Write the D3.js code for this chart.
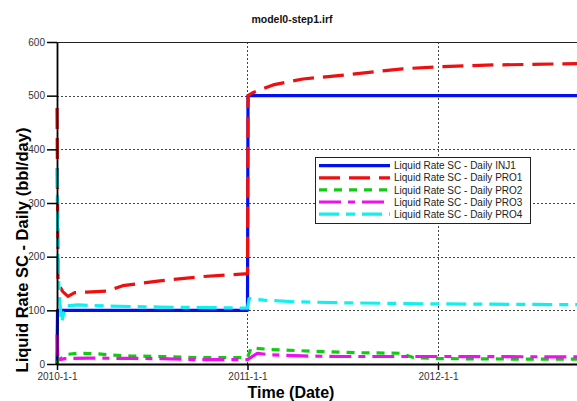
<!DOCTYPE html>
<html>
<head>
<meta charset="utf-8">
<script src="https://cdn.jsdelivr.net/npm/d3@7"></script>
<style>
  html, body { margin: 0; padding: 0; background: #fff; overflow: hidden; }
  svg { display: block; }
</style>
</head>
<body>
<svg id="chart" width="577" height="401"></svg>
<script>
// Liquid rate per well, [date, bbl/day]
const inj1 = [
  ["2010-01-01", 0], ["2010-01-02", 100], ["2011-01-01", 100],
  ["2011-01-02", 500], ["2013-01-01", 500]
];
const pro1 = [
  ["2010-01-01", 477], ["2010-01-03", 150], ["2010-01-12", 135],
  ["2010-01-22", 126], ["2010-02-04", 133], ["2010-02-27", 134],
  ["2010-04-07", 136], ["2010-05-07", 146], ["2010-07-17", 155],
  ["2010-10-08", 163], ["2010-12-27", 168], ["2011-01-01", 168],
  ["2011-01-02", 500], ["2011-01-10", 505], ["2011-02-19", 520],
  ["2011-04-17", 531], ["2011-07-21", 540], ["2011-10-25", 550],
  ["2012-01-04", 554], ["2012-04-03", 557], ["2012-08-07", 559],
  ["2013-01-01", 561]
];
const pro2 = [
  ["2010-01-01", 2], ["2010-01-04", 8], ["2010-01-11", 12],
  ["2010-01-21", 18], ["2010-02-10", 20], ["2010-03-22", 19],
  ["2010-04-11", 17], ["2010-05-21", 15], ["2010-07-20", 14],
  ["2010-09-23", 12], ["2011-01-01", 12], ["2011-01-08", 30],
  ["2011-02-15", 27], ["2011-05-01", 24], ["2011-08-01", 21],
  ["2011-10-20", 20], ["2011-11-15", 12], ["2012-01-01", 10],
  ["2012-07-01", 9], ["2013-01-01", 9]
];
const pro3 = [
  ["2010-01-01", 55], ["2010-01-03", 5], ["2010-01-06", 8],
  ["2010-01-16", 10], ["2010-03-02", 11], ["2010-07-20", 10],
  ["2010-09-23", 8], ["2011-01-01", 8], ["2011-01-20", 20],
  ["2011-02-15", 17], ["2011-04-15", 15], ["2011-07-01", 14],
  ["2012-01-01", 14], ["2013-01-01", 13]
];
const pro4 = [
  ["2010-01-01", 365], ["2010-01-03", 180], ["2010-01-06", 120],
  ["2010-01-10", 78], ["2010-01-14", 95], ["2010-01-20", 108],
  ["2010-02-10", 110], ["2010-04-11", 108], ["2010-07-20", 106],
  ["2010-10-28", 105], ["2011-01-01", 104], ["2011-01-04", 122],
  ["2011-02-01", 119], ["2011-04-01", 116], ["2011-07-01", 114],
  ["2012-01-01", 112], ["2012-07-01", 111], ["2013-01-01", 110]
];

const seriesNames = [
  "Liquid Rate SC - Daily INJ1",
  "Liquid Rate SC - Daily PRO1",
  "Liquid Rate SC - Daily PRO2",
  "Liquid Rate SC - Daily PRO3",
  "Liquid Rate SC - Daily PRO4"
];
const seriesData = [inj1, pro1, pro2, pro3, pro4];
const seriesColors = ["#0010ee", "#ee1010", "#10cc10", "#ee10ee", "#10f0f0"];
const seriesDashes = [null, "21,9", "8,7", "22,7,7,7", "20,7,9,7"];

const yTicks = [0, 100, 200, 300, 400, 500, 600];
const xTickDates = ["2010-01-01", "2011-01-01", "2012-01-01"];
const xTickLabels = ["2010-1-1", "2011-1-1", "2012-1-1"];

const titleText = "model0-step1.irf";
const yTitle = "Liquid Rate SC - Daily (bbl/day)";
const xTitle = "Time (Date)";

const parse = d3.utcParse("%Y-%m-%d");

const svg = d3.select("#chart");
const plotLeft = 57, plotTop = 42, plotBottom = 364, plotRight = 629;

const x = d3.scaleUtc()
  .domain([parse("2010-01-01"), parse("2013-01-01")])
  .range([plotLeft, plotRight]);
const y = d3.scaleLinear().domain([0, 600]).range([plotBottom, plotTop]);

const font = "Liberation Sans, Arial, Helvetica, sans-serif";

// title
svg.append("text")
  .attr("x", 292).attr("y", 23)
  .attr("text-anchor", "middle")
  .attr("font-family", font).attr("font-weight", "bold")
  .attr("font-size", 10.5).attr("fill", "#111")
  .text(titleText);

// grid
const grid = svg.append("g")
  .attr("stroke", "#444").attr("stroke-width", 1)
  .attr("stroke-dasharray", "2,2");
grid.selectAll("line.h").data(yTicks.filter(v => v > 0 && v < 600))
  .join("line").attr("class", "h")
  .attr("x1", plotLeft).attr("x2", 577)
  .attr("y1", d => Math.round(y(d)) + 0.5).attr("y2", d => Math.round(y(d)) + 0.5);
grid.selectAll("line.v").data(xTickDates.slice(1))
  .join("line").attr("class", "v")
  .attr("x1", d => Math.round(x(parse(d))) + 0.5).attr("x2", d => Math.round(x(parse(d))) + 0.5)
  .attr("y1", plotTop).attr("y2", plotBottom);

// top frame line
svg.append("line")
  .attr("x1", plotLeft).attr("x2", 577)
  .attr("y1", plotTop + 0.5).attr("y2", plotTop + 0.5)
  .attr("stroke", "#222").attr("stroke-width", 1.2);

// clip for the curves
svg.append("clipPath").attr("id", "plotClip")
  .append("rect").attr("x", plotLeft - 3).attr("y", plotTop - 3)
  .attr("width", plotRight - plotLeft + 6).attr("height", plotBottom - plotTop + 3);

const line = d3.line()
  .x(d => x(parse(d[0])))
  .y(d => y(d[1]));

const curves = svg.append("g").attr("clip-path", "url(#plotClip)");
seriesData.forEach((data, i) => {
  curves.append("path")
    .datum(data)
    .attr("d", line)
    .attr("fill", "none")
    .attr("stroke", seriesColors[i])
    .attr("stroke-width", 3.2)
    .attr("stroke-linejoin", "round")
    .attr("stroke-dasharray", seriesDashes[i]);
});

// axes
const yAxis = d3.axisLeft(y).tickValues(yTicks).tickSize(10).tickPadding(2).tickSizeOuter(0);
const gy = svg.append("g").attr("transform", `translate(${plotLeft},0)`).call(yAxis);
gy.select(".domain").attr("stroke", "#000").attr("stroke-width", 1.8);
gy.selectAll(".tick line").attr("stroke", "#000").attr("stroke-width", 1.5);
gy.selectAll(".tick text").attr("font-family", font).attr("font-size", 10).attr("fill", "#333");

const xAxis = d3.axisBottom(x)
  .tickValues(xTickDates.map(parse))
  .tickFormat((d, i) => xTickLabels[i])
  .tickSize(6).tickPadding(3).tickSizeOuter(0);
const gx = svg.append("g").attr("transform", `translate(0,${plotBottom})`).call(xAxis);
gx.select(".domain").attr("stroke", "#000").attr("stroke-width", 1.8);
gx.selectAll(".tick line").attr("stroke", "#000").attr("stroke-width", 1.5);
gx.selectAll(".tick text").attr("font-family", font).attr("font-size", 10).attr("fill", "#333");

// axis titles
svg.append("text")
  .attr("transform", "translate(28,250) rotate(-90)")
  .attr("text-anchor", "middle")
  .attr("font-family", font).attr("font-weight", "bold")
  .attr("font-size", 16.5).attr("fill", "#000")
  .text(yTitle);
svg.append("text")
  .attr("x", 291).attr("y", 398)
  .attr("text-anchor", "middle")
  .attr("font-family", font).attr("font-weight", "bold")
  .attr("font-size", 16).attr("fill", "#000")
  .text(xTitle);

// legend
const lg = svg.append("g");
lg.append("rect")
  .attr("x", 315.5).attr("y", 157.5).attr("width", 215).attr("height", 66)
  .attr("fill", "#fff").attr("stroke", "#222").attr("stroke-width", 1);
seriesNames.forEach((name, i) => {
  const ry = 165.7 + i * 12.1;
  lg.append("line")
    .attr("x1", 319).attr("x2", 390).attr("y1", ry).attr("y2", ry)
    .attr("stroke", seriesColors[i]).attr("stroke-width", 3.2)
    .attr("stroke-dasharray", seriesDashes[i]);
  lg.append("text")
    .attr("x", 394).attr("y", ry + 3.6)
    .attr("font-family", font).attr("font-size", 10).attr("fill", "#222")
    .text(name);
});
</script>
</body>
</html>
